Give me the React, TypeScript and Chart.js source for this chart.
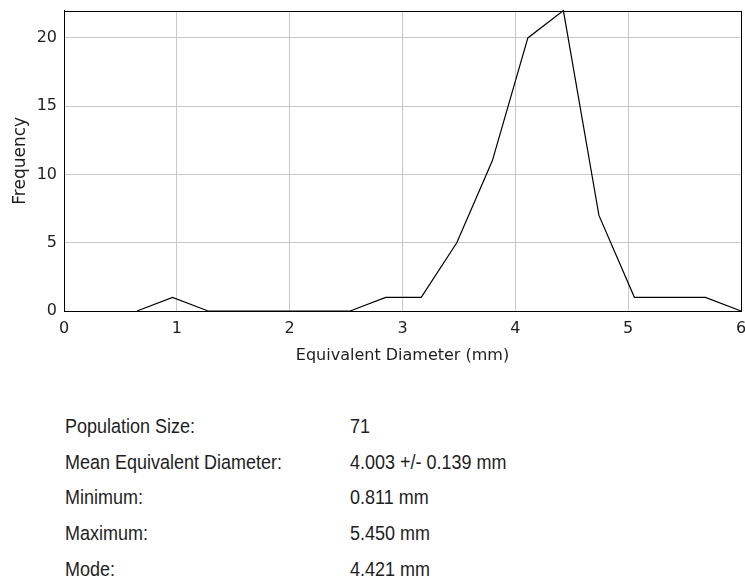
import React, { useEffect, useRef } from "react";
import { Chart, registerables } from "chart.js";

Chart.register(...registerables);

// Bin centres (mm) and counts
const diameters = [0.647, 0.962, 1.277, 1.592, 1.907, 2.222, 2.536, 2.851, 3.166, 3.481, 3.796, 4.111, 4.426, 4.741, 5.055, 5.37, 5.685, 6.0];
const frequencies = [0, 1, 0, 0, 0, 0, 0, 1, 1, 5, 11, 20, 22, 7, 1, 1, 1, 0];

const xAxisTitle = "Equivalent Diameter (mm)";
const yAxisTitle = "Frequency";
const yTickValues = [0, 5, 10, 15, 20];

const statLabels = ["Population Size:", "Mean Equivalent Diameter:", "Minimum:", "Maximum:", "Mode:"];
const statValues = ["71", "4.003 +/- 0.139 mm", "0.811 mm", "5.450 mm", "4.421 mm"];

const AXIS_FONT = "'DejaVu Sans', sans-serif";
const STAT_FONT = "'Liberation Sans', Arial, sans-serif";
const TEXT = "#1e1e1e";

const frame = {
  id: "frame",
  afterDatasetsDraw(chart: any) {
    const { ctx, chartArea } = chart;
    ctx.save();
    ctx.strokeStyle = "#000";
    ctx.lineWidth = 1;
    ctx.strokeRect(
      Math.round(chartArea.left) + 0.5,
      Math.round(chartArea.top) + 0.5,
      Math.round(chartArea.right - chartArea.left),
      Math.round(chartArea.bottom - chartArea.top)
    );
    ctx.restore();
  },
};

export default function App() {
  const ref = useRef<HTMLCanvasElement | null>(null);

  useEffect(() => {
    if (!ref.current) return;
    const chart = new Chart(ref.current, {
      type: "line",
      data: {
        datasets: [
          {
            data: diameters.map((x, i) => ({ x, y: frequencies[i] })),
            borderColor: "#000",
            borderWidth: 1.2,
            pointRadius: 0,
            tension: 0,
            fill: false,
            clip: false as any,
          },
        ],
      },
      options: {
        animation: false,
        responsive: true,
        maintainAspectRatio: false,
        layout: { padding: { left: 0, right: 19, top: 10, bottom: 0 } },
        plugins: { legend: { display: false }, tooltip: { enabled: false } },
        scales: {
          x: {
            type: "linear",
            min: 0,
            max: 6,
            ticks: { stepSize: 1, padding: 8, color: TEXT, font: { family: AXIS_FONT, size: 16 } },
            grid: { color: "#c8c8c8", drawTicks: false },
            border: { color: "#000", width: 1 },
            title: {
              display: true,
              text: xAxisTitle,
              color: TEXT,
              font: { family: AXIS_FONT, size: 16 },
              padding: { top: 4, bottom: 5 },
            },
            afterFit(scale: any) {
              scale.height = 59;
            },
          },
          y: {
            min: 0,
            max: 22,
            afterBuildTicks(scale: any) {
              scale.ticks = yTickValues.map((v) => ({ value: v }));
            },
            ticks: { padding: 7, color: TEXT, font: { family: AXIS_FONT, size: 16 } },
            grid: { color: "#c8c8c8", drawTicks: false },
            border: { color: "#000", width: 1 },
            title: {
              display: true,
              text: yAxisTitle,
              color: TEXT,
              font: { family: AXIS_FONT, size: 17 },
              padding: { top: 10, bottom: 0 },
            },
            afterFit(scale: any) {
              scale.width = 64;
            },
          },
        },
      },
      plugins: [frame],
    });
    return () => chart.destroy();
  }, []);

  return (
    <div
      style={{
        position: "absolute",
        left: 0,
        top: 0,
        width: 745,
        height: 581,
        overflow: "hidden",
        background: "#fff",
      }}
    >
      <div style={{ position: "absolute", left: 0, top: -6, width: 760, height: 376 }}>
        <canvas ref={ref} />
      </div>
      <div
        style={{
          position: "absolute",
          left: 0,
          top: 409,
          width: 745,
          fontFamily: STAT_FONT,
          fontSize: 18,
          color: TEXT,
        }}
      >
        {statLabels.map((label, i) => (
          <div
            key={label}
            style={{
              position: "relative",
              height: 35.7,
              lineHeight: "35.7px",
              transform: "scaleY(1.15)",
              transformOrigin: "50% 50%",
            }}
          >
            <span style={{ position: "absolute", left: 65 }}>{label}</span>
            <span style={{ position: "absolute", left: 350 }}>{statValues[i]}</span>
          </div>
        ))}
      </div>
    </div>
  );
}
